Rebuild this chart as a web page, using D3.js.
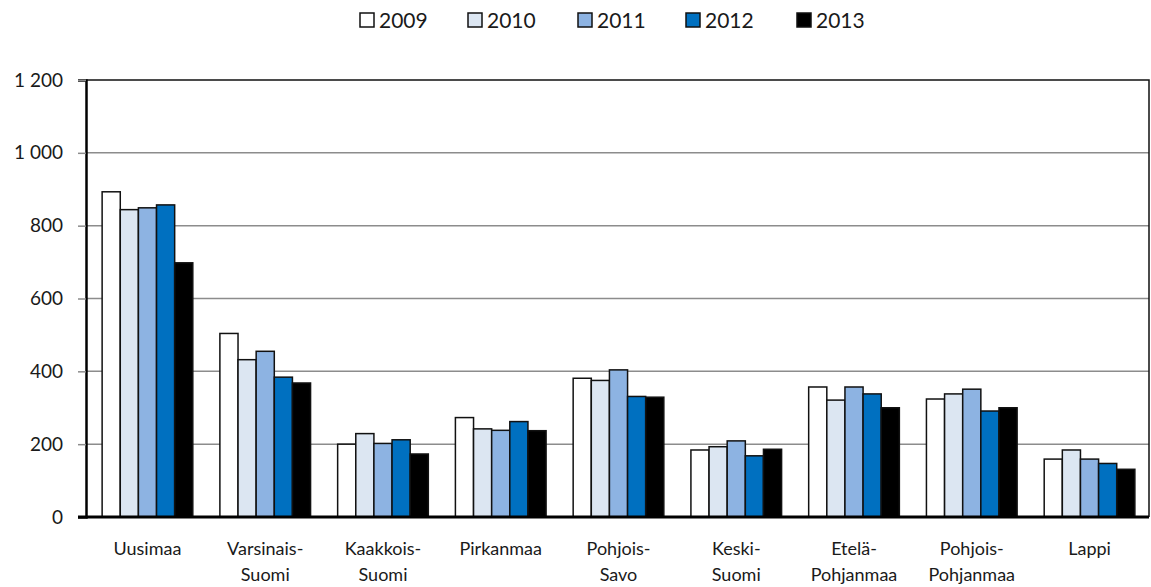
<!DOCTYPE html>
<html>
<head>
<meta charset="utf-8">
<script src="https://cdn.jsdelivr.net/npm/d3@7"></script>
<style>
  body { margin: 0; background: #fff; }
  svg { display: block; font-family: Lato, "Open Sans", sans-serif; }
</style>
</head>
<body>
<svg id="chart" width="1151" height="587"></svg>
<script>
var regions = [
  ["Uusimaa"], ["Varsinais-", "Suomi"], ["Kaakkois-", "Suomi"], ["Pirkanmaa"],
  ["Pohjois-", "Savo"], ["Keski-", "Suomi"], ["Etelä-", "Pohjanmaa"],
  ["Pohjois-", "Pohjanmaa"], ["Lappi"]
];
var years = ["2009", "2010", "2011", "2012", "2013"];
var v2009 = [893, 504, 200, 273, 381, 184, 357, 324, 159];
var v2010 = [844, 432, 229, 242, 375, 193, 321, 338, 184];
var v2011 = [849, 455, 202, 238, 404, 209, 357, 351, 159];
var v2012 = [857, 384, 212, 262, 331, 168, 338, 291, 147];
var v2013 = [698, 368, 173, 237, 329, 186, 300, 300, 131];
var yTicks = [0, 200, 400, 600, 800, 1000, 1200];
var colors = ["#ffffff", "#dce6f2", "#8db3e2", "#0070c0", "#000000"];

var series = [v2009, v2010, v2011, v2012, v2013];
var svg = d3.select('#chart');
var plotL = 86, plotR = 1149, plotT = 80, plotB = 517;

var x0 = d3.scaleBand().domain(d3.range(regions.length)).range([plotL + 2, plotR])
  .paddingInner(0.23).paddingOuter(0.12);
var x1 = d3.scaleBand().domain(years).range([0, x0.bandwidth()]);
var y = d3.scaleLinear().domain([0, 1200]).range([plotB, plotT]);

var fmt = function(d) { return d3.format(",")(d).replace(",", " "); };

// gridlines
svg.append('g').selectAll('line')
  .data(yTicks.slice(1, -1))
  .join('line')
  .attr('x1', plotL).attr('x2', plotR)
  .attr('y1', function(d) { return y(d); }).attr('y2', function(d) { return y(d); })
  .attr('stroke', '#8c8c8c').attr('stroke-width', 1.5);

// frame top / right
svg.append('path')
  .attr('d', 'M' + plotL + ',' + y(1200) + 'H' + plotR + 'V' + plotB)
  .attr('fill', 'none').attr('stroke', '#111').attr('stroke-width', 1.5);

// bars
var groups = svg.append('g').selectAll('g')
  .data(regions)
  .join('g')
  .attr('transform', function(d, i) { return 'translate(' + x0(i) + ',0)'; });

groups.selectAll('rect')
  .data(function(d, i) { return years.map(function(yr, k) { return { yr: yr, k: k, v: series[k][i] }; }); })
  .join('rect')
  .attr('x', function(d) { return x1(d.yr); })
  .attr('width', x1.bandwidth())
  .attr('y', function(d) { return y(d.v); })
  .attr('height', function(d) { return y(0) - y(d.v); })
  .attr('fill', function(d) { return colors[d.k]; })
  .attr('stroke', '#111').attr('stroke-width', 1.5);

// y axis
var yAxis = svg.append('g')
  .attr('transform', 'translate(' + plotL + ',0)')
  .call(d3.axisLeft(y).tickValues(yTicks).tickFormat(fmt).tickSize(8).tickPadding(15));
yAxis.select('.domain').attr('stroke', '#000').attr('stroke-width', 2.5);
yAxis.selectAll('.tick line').attr('stroke', '#8c8c8c').attr('stroke-width', 1.5);
yAxis.selectAll('text').attr('font-size', 19).attr('fill', '#1a1a1a')
  .attr('font-family', 'Lato, sans-serif');

// x baseline
svg.append('line')
  .attr('x1', plotL - 8).attr('x2', plotR)
  .attr('y1', plotB).attr('y2', plotB)
  .attr('stroke', '#000').attr('stroke-width', 3);

// category labels
svg.append('g').selectAll('text')
  .data(regions)
  .join('text')
  .attr('text-anchor', 'middle')
  .attr('font-size', 18).attr('fill', '#1a1a1a')
  .attr('transform', function(d, i) { return 'translate(' + (x0(i) + x0.bandwidth() / 2) + ',555)'; })
  .selectAll('tspan')
  .data(function(d) { return d; })
  .join('tspan')
  .attr('x', 0)
  .attr('dy', function(d, i) { return i === 0 ? 0 : 26; })
  .text(function(d) { return d; });

// legend
var legendX = [360, 468, 578, 686, 797];
var legend = svg.append('g').selectAll('g')
  .data(years)
  .join('g')
  .attr('transform', function(d, i) { return 'translate(' + legendX[i] + ',13)'; });
legend.append('rect')
  .attr('width', 14).attr('height', 14)
  .attr('fill', function(d, i) { return colors[i]; })
  .attr('stroke', '#111').attr('stroke-width', 1.5);
legend.append('text')
  .attr('x', 19).attr('y', 15)
  .attr('font-size', 21).attr('fill', '#1a1a1a')
  .text(function(d) { return d; });
</script>
</body>
</html>
